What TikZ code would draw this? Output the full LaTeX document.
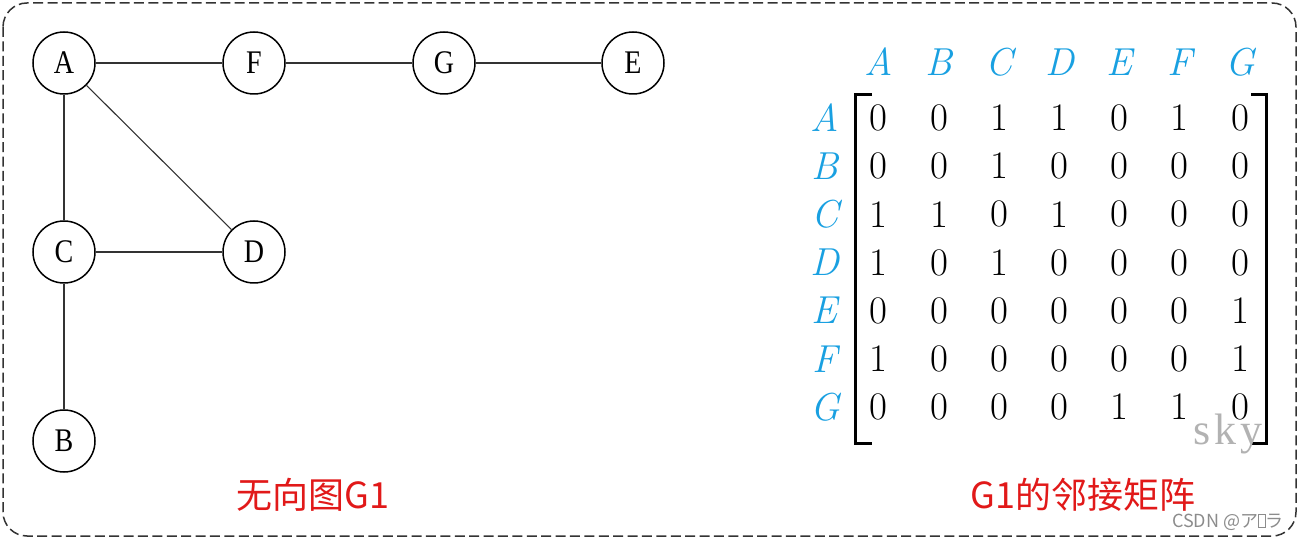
\documentclass[tikz,border=0pt]{standalone}
\usepackage{fontspec}
\newfontfamily\cjk{Noto Sans CJK SC}
\newfontfamily\jpn{Noto Sans CJK JP}
\newfontfamily\vtxfont[FakeStretch=0.85]{Liberation Serif}
\newfontfamily\skyfont[LetterSpace=10]{Liberation Serif}
\usetikzlibrary{matrix}
\definecolor{lblue}{RGB}{25,160,225}
\definecolor{lred}{RGB}{225,25,25}
\newcommand\tofu{{\setlength\fboxsep{0pt}\setlength\fboxrule{0.4pt}\fbox{\rule{0pt}{6.5pt}\hspace{3pt}}}}
\tikzset{
  vtx/.style={draw, circle, line width=0.75pt, minimum size=31pt, inner sep=0pt, font=\vtxfont\fontsize{16.5}{16.5}\selectfont},
  edg/.style={line width=0.7pt, draw=black!80},
  frm/.style={draw=black!80, line width=0.75pt, dash pattern=on 5pt off 2.2pt, rounded corners=12pt},
  brk/.style={line width=1.5pt},
  titl/.style={text=lred, font=\cjk\fontsize{18}{18}\selectfont},
  hdr/.style={text=lblue, font=\fontsize{19.5}{19.5}\selectfont\itshape},
  wmksky/.style={text=black!30, font=\skyfont\fontsize{22}{22}\selectfont},
  wmkcsdn/.style={text=black!45, font=\jpn\fontsize{9}{9}\selectfont},
}
\begin{document}
\begin{tikzpicture}[x=0.5pt, y=-0.5pt]
\useasboundingbox (0,0) rectangle (1300,539);
\draw[frm] (3,3) rectangle (1296,536);
\node[vtx] (A) at (64,63) {A};
\node[vtx] (F) at (254,63) {F};
\node[vtx] (G) at (444,63) {G};
\node[vtx] (E) at (633,63) {E};
\node[vtx] (C) at (64,252) {C};
\node[vtx] (D) at (254,252) {D};
\node[vtx] (B) at (64,441) {B};
\draw[edg] (A) -- (F) (F) -- (G) (G) -- (E);
\draw[edg] (A) -- (C) (C) -- (D) (C) -- (B);
\draw[edg, line width=0.55pt] (A) -- (D);
\matrix (adj) [matrix of nodes, anchor=north west, inner sep=0pt, outer sep=0pt,
  nodes={minimum width=30.1pt, minimum height=24.1pt, inner sep=0pt, anchor=center, font=\fontsize{19.5}{19.5}\selectfont},
  column 1/.style={nodes={minimum width=23.9pt}},
  row 1/.style={nodes={minimum height=31.9pt}}] at (801,30) {
          & |[hdr]| A & |[hdr]| B & |[hdr]| C & |[hdr]| D & |[hdr]| E & |[hdr]| F & |[hdr]| G \\
|[hdr]| A & 0 & 0 & 1 & 1 & 0 & 1 & 0 \\
|[hdr]| B & 0 & 0 & 1 & 0 & 0 & 0 & 0 \\
|[hdr]| C & 1 & 1 & 0 & 1 & 0 & 0 & 0 \\
|[hdr]| D & 1 & 0 & 1 & 0 & 0 & 0 & 0 \\
|[hdr]| E & 0 & 0 & 0 & 0 & 0 & 0 & 1 \\
|[hdr]| F & 1 & 0 & 0 & 0 & 0 & 0 & 1 \\
|[hdr]| G & 0 & 0 & 0 & 0 & 1 & 1 & 0 \\
};
\draw[brk] (872,95) -- (855,95) -- (855,443) -- (872,443);
\draw[brk] (1251,95) -- (1266,95) -- (1266,443) -- (1251,443);
\node[titl] (lgraph) at (313,495) {无向图G1};
\node[titl] (lmatrix) at (1083,495) {G1的邻接矩阵};
\node[wmksky] (sky) at (1228,434) {sky};
\node[wmkcsdn] (csdn) at (1228,522) {CSDN @ア\tofu ラ};
\end{tikzpicture}
\end{document}
